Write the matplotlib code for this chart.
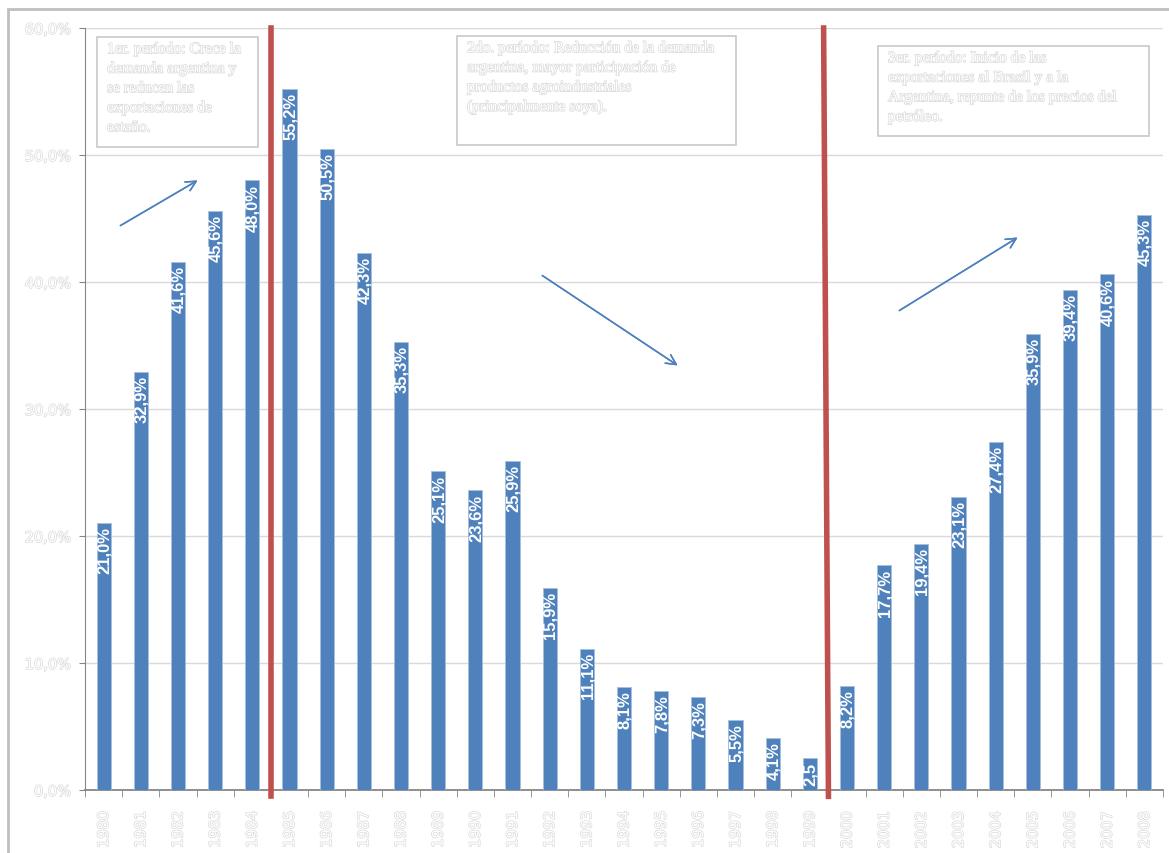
import matplotlib.pyplot as plt
import matplotlib.patheffects as pe
from matplotlib.patches import Rectangle

# --- datos ---
anios = [str(a) for a in range(1980, 2009)]
valores = [21.0, 32.9, 41.6, 45.6, 48.0, 55.2, 50.5, 42.3, 35.3, 25.1,
           23.6, 25.9, 15.9, 11.1, 8.1, 7.8, 7.3, 5.5, 4.1, 2.5,
           8.2, 17.7, 19.4, 23.1, 27.4, 35.9, 39.4, 40.6, 45.3]
etiquetas = ['21,0%', '32,9%', '41,6%', '45,6%', '48,0%', '55,2%', '50,5%', '42,3%',
             '35,3%', '25,1%', '23,6%', '25,9%', '15,9%', '11,1%', '8,1%', '7,8%',
             '7,3%', '5,5%', '4,1%', '2,5', '8,2%', '17,7%', '19,4%', '23,1%',
             '27,4%', '35,9%', '39,4%', '40,6%', '45,3%']
yticks = [0, 10, 20, 30, 40, 50, 60]
ytick_labels = ['0,0%', '10,0%', '20,0%', '30,0%', '40,0%', '50,0%', '60,0%']
cortes = [4.5, 19.5]  # cambios de periodo

textos = [
    "1er. período: Crece la\ndemanda argentina y\nse reducen las\nexportaciones de\nestaño.",
    "2do. período: Reducción de la demanda\nargentina, mayor participación de\nproductos agroindustriales\n(principalmente soya).",
    "3er. período: Inicio de las\nexportaciones al Brasil y a la\nArgentina, repunte de los precios del\npetróleo.",
]

W, H = 1169, 854
AZUL = '#4f81bd'
ROJO = '#c0504d'
claro = [pe.withStroke(linewidth=1.0, foreground='#dadada')]


def px(x, y):
    # pixeles de la imagen -> fraccion de figura
    return x / W, 1 - y / H


fig = plt.figure(figsize=(W / 100, H / 100), dpi=100)
ax = fig.add_axes([85 / W, 1 - 791 / H, (1163 - 85) / W, (791 - 29) / H])

x = range(len(anios))
ax.bar(x, valores, width=0.38, color=AZUL, edgecolor='#a7bfde', linewidth=0.6, zorder=3)

for i, (v, t) in enumerate(zip(valores, etiquetas)):
    ax.text(i + 0.02, v - 0.25, t, rotation=90, ha='center', va='top', color='white',
            fontsize=12, fontweight='bold', family='Liberation Sans', zorder=4)

ax.set_xlim(-0.5, len(anios) - 0.5)
ax.set_ylim(0, 60)
ax.set_yticks(yticks)
ax.set_yticklabels(ytick_labels)
ax.set_xticks(x)
ax.set_xticklabels(anios, rotation=90)
ax.set_xticks([i - 0.5 for i in range(len(anios) + 1)], minor=True)
ax.tick_params(axis='x', which='major', length=0, pad=15)
ax.tick_params(axis='x', which='minor', length=5, color='#868686', direction='out')
ax.tick_params(axis='y', length=4, color='#868686', pad=6)
for lab in ax.get_xticklabels() + ax.get_yticklabels():
    lab.set_color('white')
    lab.set_fontsize(10.5)
    lab.set_path_effects(claro)

ax.grid(axis='y', color='#d9d9d9', linewidth=1, zorder=0)
for s in ['top', 'right']:
    ax.spines[s].set_visible(False)
ax.spines['left'].set_color('#868686')
ax.spines['bottom'].set_color('#868686')
ax.spines['bottom'].set_linewidth(1.3)

# lineas rojas de periodo
ax.plot([cortes[0], cortes[0]], [-0.5, 60], color=ROJO, linewidth=4, zorder=5, clip_on=False)
ax.plot([cortes[1] - 0.13, cortes[1]], [60, -0.5], color=ROJO, linewidth=4, zorder=5, clip_on=False)

# cuadros de texto
cajas = [(97, 38, 258, 148), (457, 37, 736, 146), (878, 47, 1149, 137)]
for (x0, y0, x1, y1), t in zip(cajas, textos):
    fx0, fy1 = px(x0, y1)
    fx1, fy0 = px(x1, y0)
    fig.patches.append(Rectangle((fx0, fy1), fx1 - fx0, fy0 - fy1, transform=fig.transFigure,
                                 facecolor='white', edgecolor='#c8c8c8', linewidth=1.2, zorder=6))
    tx, ty = px(x0 + 10, y0 + 4)
    fig.text(tx, ty, t, ha='left', va='top', color='white', fontsize=11.2,
             family='Liberation Serif', linespacing=1.3, path_effects=claro, zorder=7)

# flechas
flechas = [((118, 228), (200, 180)), ((540, 275), (680, 368)), ((897, 313), (1020, 237))]
for ini, fin in flechas:
    fig.add_artist(plt.annotate('', xy=px(*fin), xytext=px(*ini), xycoords='figure fraction',
                                arrowprops=dict(arrowstyle='->', color=AZUL, lw=1.1, mutation_scale=18)))

# marco exterior
fig.patches.append(Rectangle(px(8, 870), 1.2, 860 / H, transform=fig.transFigure,
                             facecolor='none', edgecolor='#bfbfbf', linewidth=2))

fig.savefig('out.png', dpi=100)
